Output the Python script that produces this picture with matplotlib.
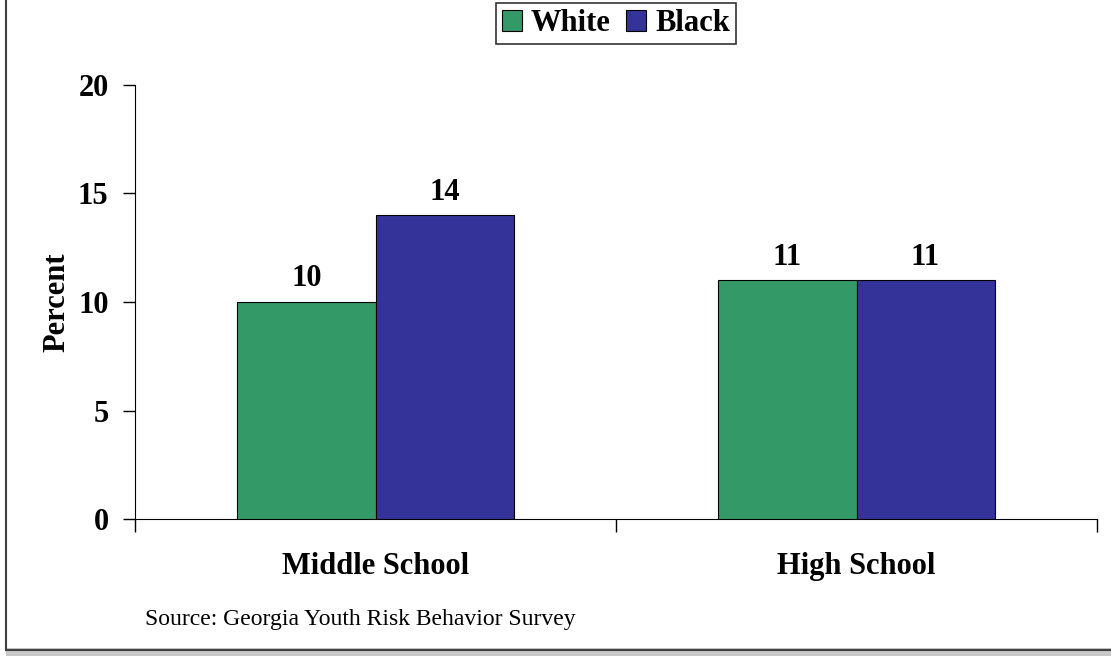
import matplotlib
matplotlib.use("Agg")
import matplotlib.pyplot as plt
import numpy as np
from matplotlib.lines import Line2D
from matplotlib.patches import Rectangle

categories = ["Middle School", "High School"]
series_names = ["White", "Black"]
white_vals = [10, 11]
black_vals = [14, 11]
yticks = [0, 5, 10, 15, 20]

plt.rcParams['font.family'] = ['Liberation Serif', 'DejaVu Serif']

fig = plt.figure(figsize=(11.11, 6.56), dpi=100)
W, H = 1111, 656
ax = fig.add_axes([135 / W, 1 - 519 / H, (1097 - 135) / W, (519 - 85) / H])

FS = 22
x = np.arange(len(categories))
bw = 0.287
ax.bar(x - bw / 2, white_vals, bw, color="#339966", edgecolor="black", linewidth=0.8, label=series_names[0], zorder=3)
ax.bar(x + bw / 2, black_vals, bw, color="#333399", edgecolor="black", linewidth=0.8, label=series_names[1], zorder=3)

for xi, v in zip(x - bw / 2, white_vals):
    ax.text(xi, v + 0.4, str(v), ha="center", va="bottom", fontsize=FS, fontweight="bold")
for xi, v in zip(x + bw / 2, black_vals):
    ax.text(xi, v + 0.4, str(v), ha="center", va="bottom", fontsize=FS, fontweight="bold")

ax.set_xlim(-0.5, 1.5)
ax.set_ylim(0, 20)
ax.set_yticks(yticks)
ax.set_yticklabels([str(t) for t in yticks], fontsize=FS, fontweight="bold")
ax.tick_params(axis="y", length=9, width=1, direction="out", pad=10)
ax.set_xticks([-0.5, 0.5, 1.5], minor=False)
ax.set_xticklabels(["", "", ""])
ax.tick_params(axis="x", length=9, width=1, direction="out")
ax.set_xticks(x, minor=True)
ax.set_xticklabels(categories, minor=True, fontsize=FS, fontweight="bold")
ax.tick_params(axis="x", which="minor", length=0, pad=24)
ax.spines["top"].set_visible(False)
ax.spines["right"].set_visible(False)
ax.set_ylabel("Percent", fontsize=FS, fontweight="bold", labelpad=5)

leg = ax.legend(loc="upper center", bbox_to_anchor=(0.5, 1 + 82 / 434), ncol=2, frameon=True,
                prop={"size": FS, "weight": "bold"}, fancybox=False, edgecolor="black",
                handlelength=0.65, handleheight=0.65, handletextpad=0.3, columnspacing=0.5,
                borderpad=0.2, borderaxespad=0)
leg.get_frame().set_linewidth(1.2)

fig.text(145 / W, 1 - 620 / H, "Source: Georgia Youth Risk Behavior Survey", fontsize=17, va="center", ha="left")

# figure border (left and bottom with shadow)
fig.add_artist(Rectangle((6 / W, 1 - 656 / H), 1 - 6 / W, 8 / H, transform=fig.transFigure,
                         facecolor="#c8c8c8", edgecolor="none"))
fig.add_artist(Line2D([6 / W, 6 / W], [1 - 650 / H, 1], transform=fig.transFigure, color="#404040", linewidth=1.5))
fig.add_artist(Line2D([6 / W, 1], [1 - 650 / H, 1 - 650 / H], transform=fig.transFigure, color="#404040", linewidth=1.5))

fig.savefig("out.png", dpi=100)
